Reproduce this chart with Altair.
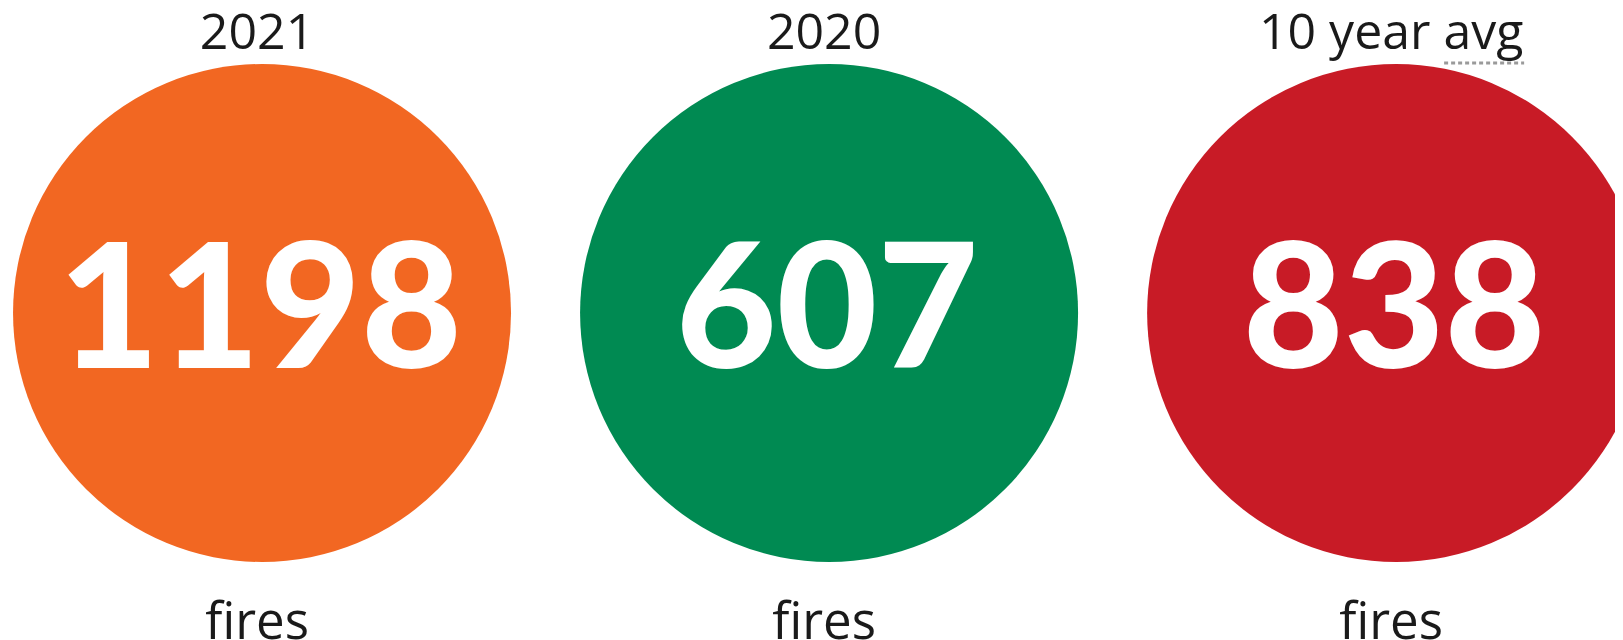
import altair as alt
import pandas as pd

labels = ["2021", "2020", "10 year avg"]
values = [1198, 607, 838]
units = ["fires", "fires", "fires"]
colors = ["#F26722", "#008A52", "#C81B26"]
idx = [0, 1, 2]

df = pd.DataFrame({"idx": idx, "label": labels, "value": values,
                   "unit": units, "color": colors})
df["value_txt"] = df["value"].astype(str)

W, H = 1607, 632
xscale = alt.Scale(domain=[-0.448, 2.386], nice=False, zero=False)
X = alt.X("idx:Q", scale=xscale, axis=None)

base = alt.Chart(df)

circles = base.mark_circle(opacity=1, size=248000).encode(
    x=X, y=alt.value(305),
    color=alt.Color("color:N", scale=None),
)

nums = base.mark_text(font="Lato", fontWeight=900, fontSize=174, color="white",
                      baseline="alphabetic", align="center", dx=-2).encode(
    x=X, y=alt.value(360), text="value_txt:N")

titles = base.mark_text(font="Open Sans", fontWeight=500, fontSize=50, color="#1a1a1a",
                        baseline="alphabetic", align="center", dx=-5).encode(
    x=X, y=alt.value(41), text="label:N")

unit_txt = base.mark_text(font="Open Sans", fontWeight=500, fontSize=51, color="#1a1a1a",
                          baseline="alphabetic", align="center", dx=-5).encode(
    x=X, y=alt.value(631), text="unit:N")

ul = alt.Chart(df[df["label"] == "10 year avg"]).mark_rule(
    color="#9a9a9a", strokeWidth=3, strokeDash=[4, 3],
    xOffset=48, x2Offset=128).encode(
    x=alt.X("idx:Q", scale=xscale, axis=None),
    x2=alt.X2("idx:Q"),
    y=alt.value(55))

chart = alt.layer(circles, nums, titles, unit_txt, ul).properties(
    width=W, height=H, padding=0,
    autosize=alt.AutoSizeParams(type="none"),
).configure_view(stroke=None)

chart.save("out.html", embed_options={"renderer": "svg", "actions": False})
